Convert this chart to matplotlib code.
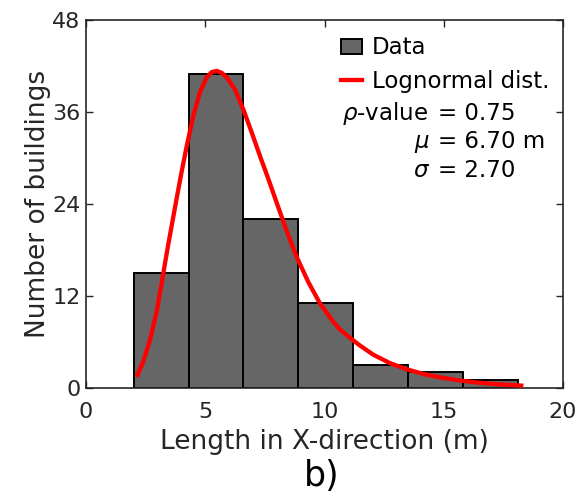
import matplotlib
matplotlib.use("Agg")
import matplotlib.pyplot as plt
from matplotlib.patches import Patch
from matplotlib.lines import Line2D

# Histogram data
bin_edges = [2.0, 4.3, 6.6, 8.9, 11.2, 13.5, 15.8, 18.1]
counts = [15, 41, 22, 11, 3, 2, 1]

# Lognormal fit curve
curve_x = [2.12, 2.40, 2.68, 2.96, 3.17, 3.31, 3.45, 3.59, 3.80, 4.01, 4.22,
           4.50, 4.78, 5.06, 5.27, 5.48, 5.69, 5.90, 6.25, 6.60, 6.95, 7.30,
           7.64, 8.00, 8.41, 8.83, 9.32, 9.81, 10.37, 10.65, 11.07, 11.49,
           12.05, 12.75, 13.45, 14.14, 14.84, 15.54, 16.24, 17.22, 18.34]
curve_y = [1.4, 3.4, 6.2, 9.9, 13.6, 16.2, 18.7, 21.1, 24.7, 28.2, 31.5,
           35.5, 38.6, 40.5, 41.2, 41.35, 41.1, 40.5, 38.9, 36.3, 33.3, 30.2,
           27.3, 24.1, 20.5, 17.1, 13.8, 11.0, 8.6, 7.6, 6.5, 5.5,
           4.3, 3.2, 2.4, 1.8, 1.35, 1.0, 0.72, 0.45, 0.26]

x_ticks = [0, 5, 10, 15, 20]
y_ticks = [0, 12, 24, 36, 48]

W, H = 578, 496
dpi = 100
fig = plt.figure(figsize=(W / dpi, H / dpi), dpi=dpi)
ax_l, ax_r, ax_t, ax_b = 86, 563, 20, 387.7
ax = fig.add_axes([ax_l / W, 1 - ax_b / H, (ax_r - ax_l) / W, (ax_b - ax_t) / H])

txt_col = "#262626"
widths = [bin_edges[i + 1] - bin_edges[i] for i in range(len(counts))]
ax.bar(bin_edges[:-1], counts, width=widths, align="edge",
       color="#666666", edgecolor="black", linewidth=1.4, zorder=2)
ax.plot(curve_x, curve_y, color="#ff0000", linewidth=3.1, zorder=3,
        solid_capstyle="butt", solid_joinstyle="round")

ax.set_xlim(0, 20)
ax.set_ylim(0, 48)
ax.set_xticks(x_ticks)
ax.set_yticks(y_ticks)
ax.tick_params(direction="in", top=True, right=True, length=5, width=1,
               labelsize=16, colors=txt_col)
ax.tick_params(axis="x", pad=10)
ax.tick_params(axis="y", pad=4)
for s in ax.spines.values():
    s.set_color(txt_col)
    s.set_linewidth(1.2)

ax.set_xlabel("Length in X-direction (m)", fontsize=19, color=txt_col, labelpad=5)
ax.set_ylabel("Number of buildings", fontsize=19, color=txt_col, labelpad=0.5)

fs = 16.5
handles = [Patch(facecolor="#666666", edgecolor="black", linewidth=1.4),
           Line2D([0], [0], color="#ff0000", linewidth=3.1)]
leg = ax.legend(handles, ["Data", "Lognormal dist."], loc="upper left",
                bbox_to_anchor=((341 - ax_l) / (ax_r - ax_l),
                                (ax_b - 36.5) / (ax_b - ax_t)),
                frameon=False, fontsize=fs, handlelength=0.92,
                handleheight=0.6, handletextpad=0.44, labelspacing=0.44,
                borderaxespad=0, borderpad=0)
for t in leg.get_texts():
    t.set_color("black")

def fx(px):
    return px / W

def fy(py):
    return 1 - py / H

eq_x = 438
fig.text(fx(eq_x - 10), fy(120), r"$\rho$-value", fontsize=fs, va="baseline", ha="right")
fig.text(fx(eq_x), fy(120), "= 0.75", fontsize=fs, va="baseline", ha="left")
fig.text(fx(eq_x - 8), fy(148.3), r"$\mu$", fontsize=fs, va="baseline", ha="right")
fig.text(fx(eq_x), fy(148.3), "= 6.70 m", fontsize=fs, va="baseline", ha="left")
fig.text(fx(eq_x - 8), fy(176.7), r"$\sigma$", fontsize=fs, va="baseline", ha="right")
fig.text(fx(eq_x), fy(176.7), "= 2.70", fontsize=fs, va="baseline", ha="left")

fig.text(fx(322), fy(486), "b)", fontsize=25, va="baseline", ha="center", color="black")

fig.savefig("out.png", dpi=dpi)
